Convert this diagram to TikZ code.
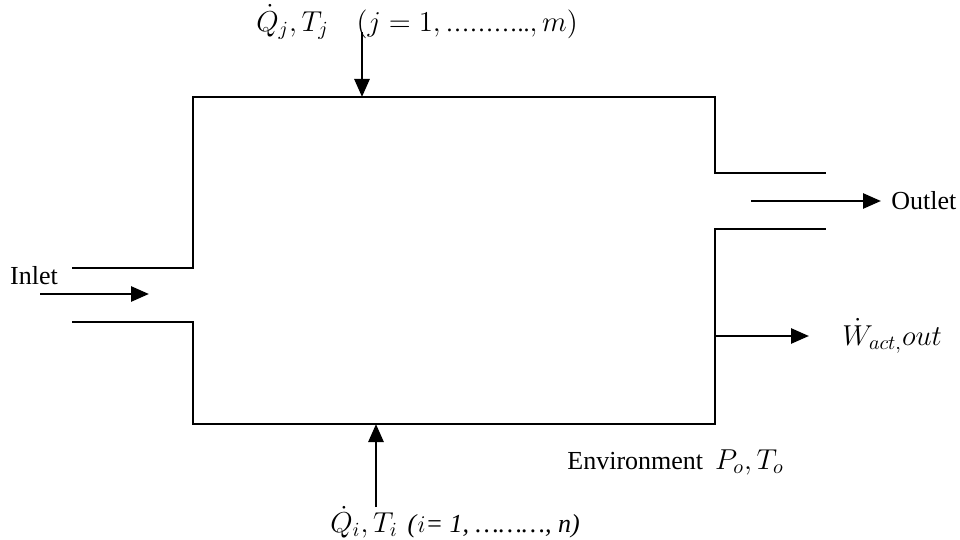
\documentclass[tikz,border=0pt]{standalone}
\usepackage{fontspec}
\setmainfont{Liberation Serif}
\usepackage{amsmath}
\usetikzlibrary{arrows.meta,positioning}

\begin{document}
\begin{tikzpicture}[
  x=0.5pt, y=-0.5pt,
  wall/.style={line width=1pt},
  flow/.style={line width=1.4pt, -{Triangle[length=9pt, width=7.5pt]}},
  lbl/.style={font=\fontsize{13}{15}\selectfont, inner sep=0pt},
  mlbl/.style={font=\fontsize{14.5}{17}\selectfont, inner sep=0pt}
]
  \useasboundingbox (0,0) rectangle (960,540);

  % control volume outline
  \coordinate (TL) at (193,97);
  \coordinate (TR) at (715,97);
  \coordinate (BL) at (193,424);
  \coordinate (BR) at (715,424);
  \coordinate (in-up) at (72,268);
  \coordinate (in-lo) at (72,322);
  \coordinate (out-up) at (826,173);
  \coordinate (out-lo) at (826,229);
  \draw[wall] (in-up) -| (TL) -- (TR) |- (out-up);
  \draw[wall] (in-lo) -| (BL) -- (BR) |- (out-lo);

  % inlet / outlet
  \node[lbl] (inlet) at (34,276) {Inlet};
  \coordinate (in-a) at (40,294);
  \coordinate (in-b) at (149,294);
  \draw[flow] (in-a) -- (in-b);

  \coordinate (out-a) at (751,201);
  \coordinate (out-b) at (881,201);
  \draw[flow] (out-a) -- (out-b);
  \node[lbl, right=5pt of out-b] (outlet) {Outlet};

  % work out
  \coordinate (w-a) at (715,336);
  \coordinate (w-b) at (809,336);
  \draw[flow] (w-a) -- (w-b);
  \node[mlbl, anchor=west] (work) at (842,336) {$\dot{W}_{act,}out$};

  % heat in, top
  \node[mlbl, anchor=west] (qj) at (256,22) {$\dot{Q}_j,T_j$\hspace{14pt}$(j=1,\text{\fontsize{12}{14}\selectfont ………..},m)$};
  \coordinate (qj-a) at (362,32);
  \coordinate (qj-b) at (362,97);
  \draw[flow] (qj-a) -- (qj-b);

  % heat in, bottom
  \node[mlbl, anchor=west] (qi) at (330,522) {$\dot{Q}_i,T_i$\hspace{5pt}{\fontsize{13}{15}\selectfont\textit{(}$i$\textit{= 1, ………, n)}}};
  \coordinate (qi-a) at (376,507);
  \coordinate (qi-b) at (376,424);
  \draw[flow] (qi-a) -- (qi-b);

  % environment
  \node[lbl, anchor=west] (env) at (567,462) {Environment\hspace{6pt}\fontsize{14.5}{17}\selectfont$P_o,T_o$};
\end{tikzpicture}
\end{document}
